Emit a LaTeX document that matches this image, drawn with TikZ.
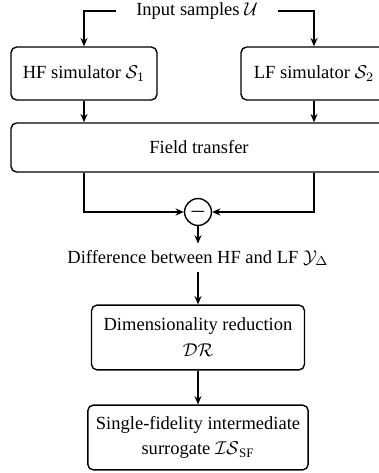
\documentclass[tikz,border=0pt]{standalone}
\usepackage{amsmath}
\usepackage{amssymb}
\usepackage{fontspec}
\setmainfont{Liberation Serif}
\usepackage{tikz}
\usetikzlibrary{arrows.meta}
\tikzstyle{block}=[draw,%
                   rectangle,%
                   rounded corners = 3pt,%
                   line width      = 0.75pt,%
                   align           = center]
\tikzstyle{simbox}=[block, minimum width=78.8pt, minimum height=28.6pt]
\tikzstyle{wide}=[block, minimum width=203pt, minimum height=26.5pt]
\tikzstyle{stage}=[block, minimum height=35pt]
\tikzstyle{sumnode}=[draw, circle, line width=0.75pt, inner sep=0pt, minimum size=14.5pt]
\tikzstyle{flow}=[line width=0.75pt, -{Stealth[length=4.5pt,width=3.8pt]}]

\begin{document}
\begin{tikzpicture}[x=0.54pt, y=-0.54pt]
            \clip (0,0) rectangle (379,473);
            \node[inner xsep=11pt, inner ysep=0.5pt] (in) at (197,11) {Input samples $\mathcal{U}$};
            \node[simbox] (hf) at (84,73.5)  {HF simulator $\mathcal{S}_1$};
            \node[simbox] (lf) at (314,73.5) {LF simulator $\mathcal{S}_2$};
            \node[wide] (ft) at (199,147.5) {Field transfer};
            \node[sumnode] (minus) at (198,212) {$\boldsymbol{-}$};
            \node (diff) at (198,258) {Difference between HF and LF $\mathcal{Y}_{\Delta}$};
            \node[stage, minimum width=115pt] (dr) at (198,337.5) {Dimensionality reduction\\[2pt] $\mathcal{DR}$};
            \node[stage, minimum width=119pt] (sf) at (198,437.5) {Single-fidelity intermediate\\[2pt] surrogate $\mathcal{IS}_{\mathrm{SF}}$};
            \draw [flow] (in.west) -| (hf.north);
            \draw [flow] (in.east) -| (lf.north);
            \draw [flow] (hf.south) -- (hf.south |- ft.north);
            \draw [flow] (lf.south) -- (lf.south |- ft.north);
            \draw [flow] (ft.south -| hf.south) |- (minus.west);
            \draw [flow] (ft.south -| lf.south) |- (minus.east);
            \draw [flow] (minus.south) -- (diff.north);
            \draw [flow] (diff.south) -- (dr.north);
            \draw [flow] (dr.south) -- (sf.north);
  \end{tikzpicture}
\end{document}
